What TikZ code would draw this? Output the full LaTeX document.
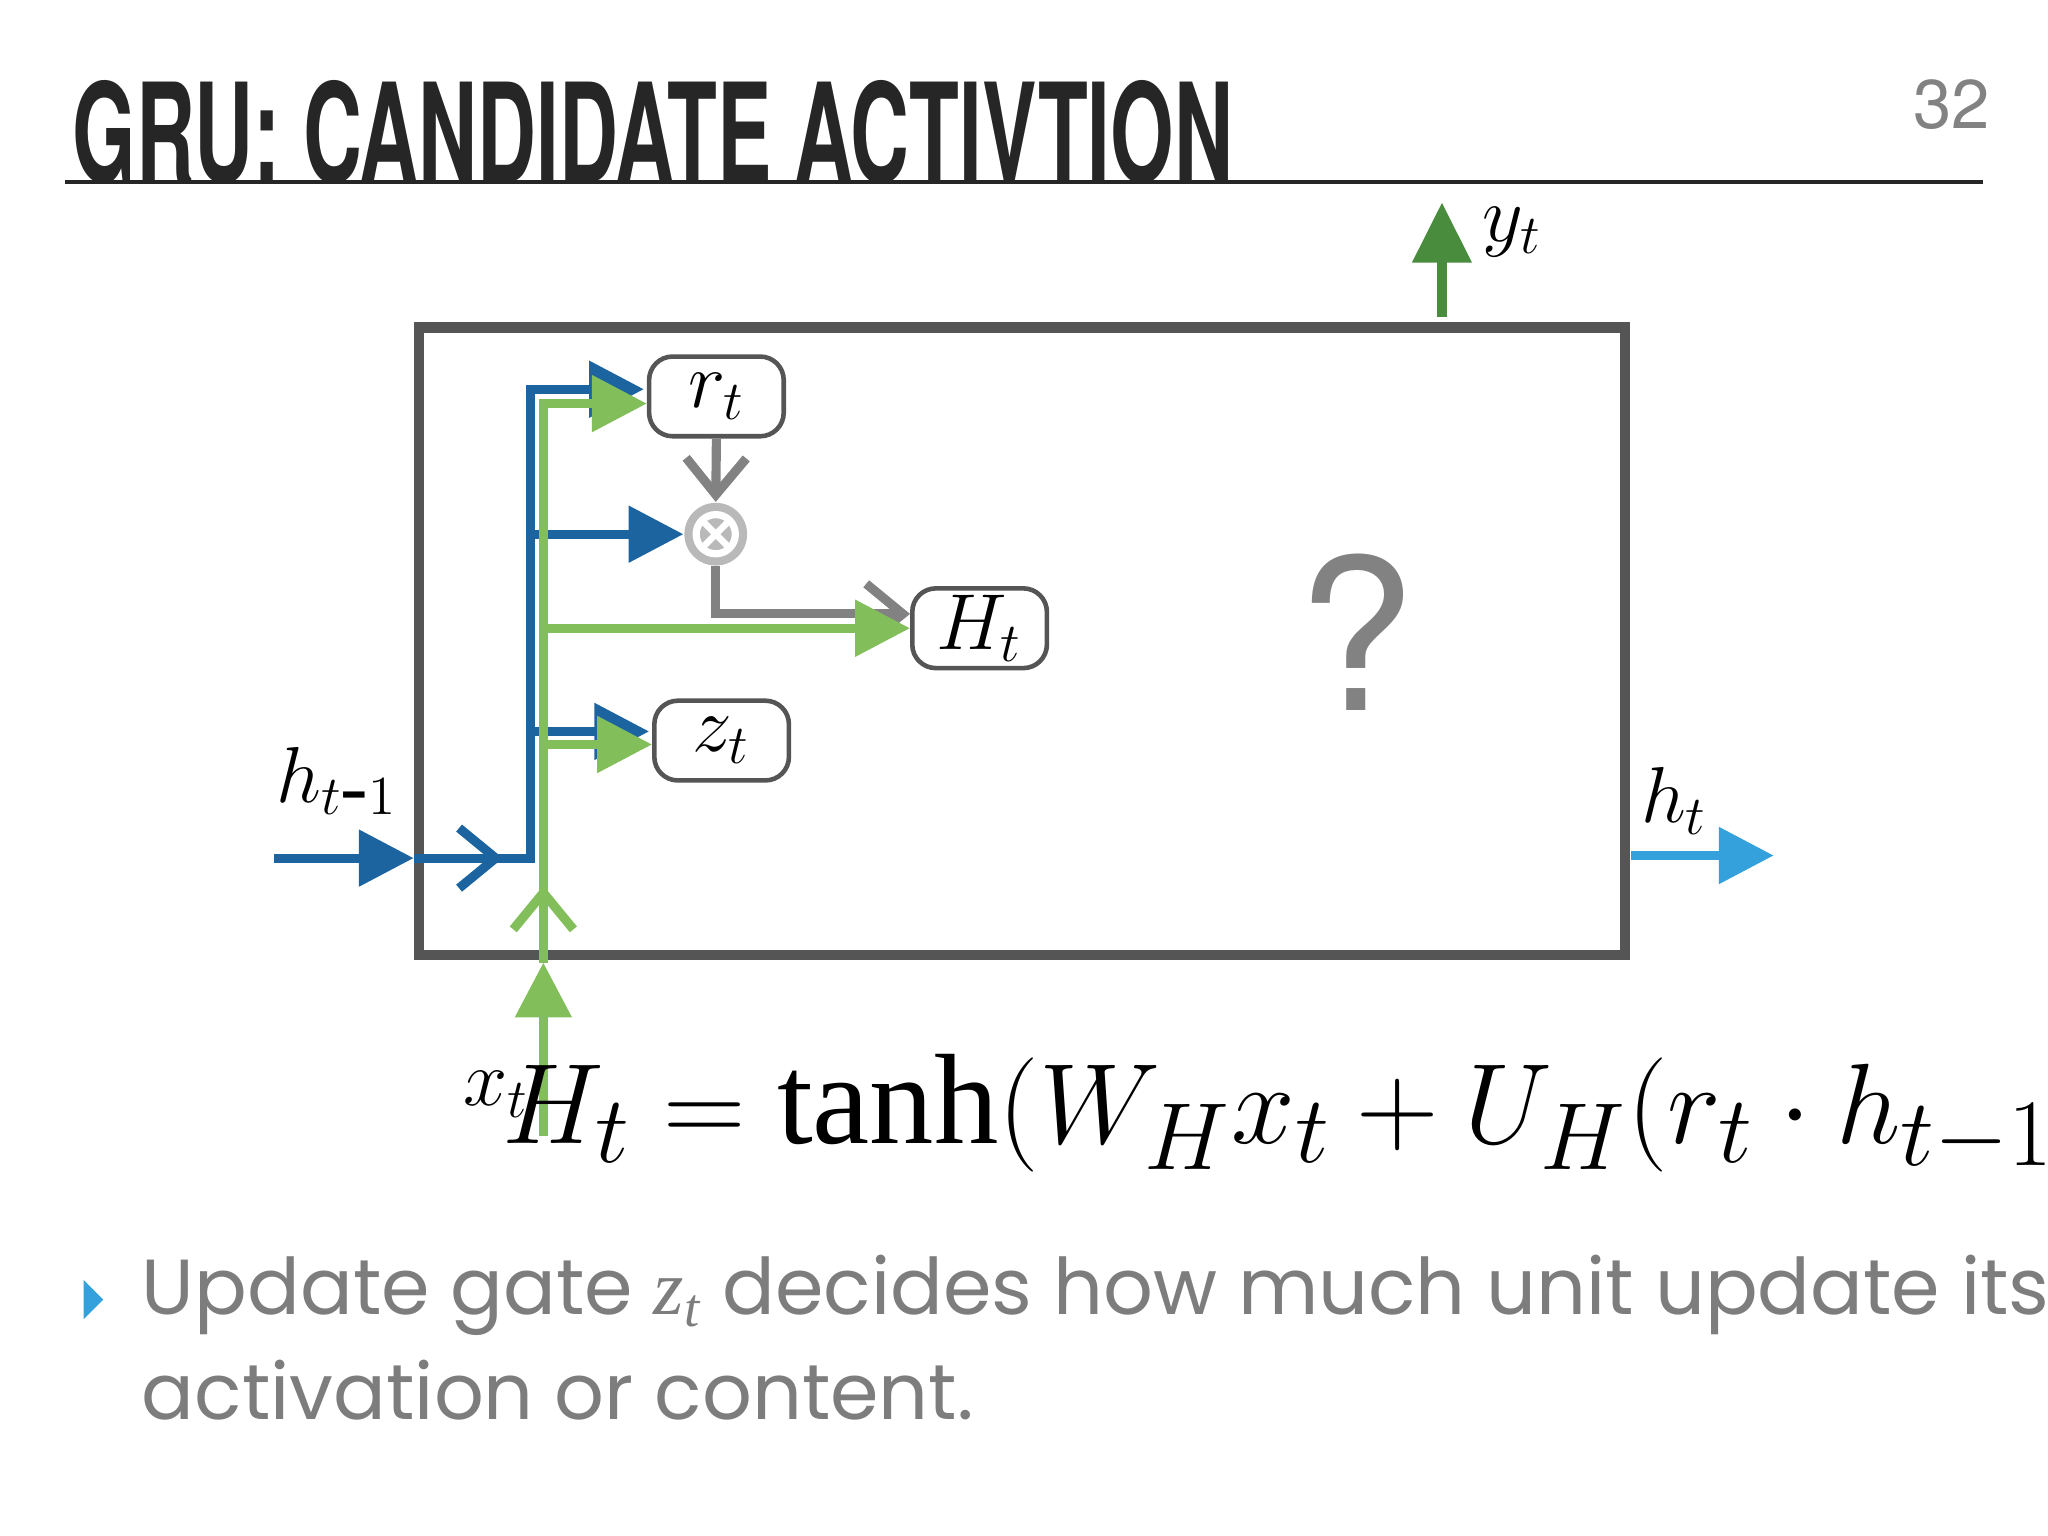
\documentclass[tikz,border=0pt]{standalone}
\usepackage{fontspec}
\usepackage{graphicx}
\setmainfont{Liberation Serif}
\newfontfamily\titlefont{TeX Gyre Heros}
\newfontfamily\bodyfont{Poppins}
\usetikzlibrary{arrows.meta,calc}
\definecolor{dblue}{RGB}{28,100,160}
\definecolor{lgreen}{RGB}{130,190,90}
\definecolor{dgreen}{RGB}{74,140,62}
\definecolor{lblue}{RGB}{52,160,220}
\definecolor{boxgray}{RGB}{85,85,85}
\definecolor{mgray}{RGB}{130,130,130}
\definecolor{txtgray}{RGB}{125,125,125}
\tikzset{
  flow/.style={line width=0.7mm},
  tip/.style={-{Triangle[length=4.2mm,width=4.2mm]}},
  barb/.style={-{Straight Barb[length=2.8mm,width=4.6mm,line width=0.7mm]}},
  gate/.style={draw=boxgray,line width=0.35mm,rounded corners=1.8mm,minimum width=10.3mm,minimum height=6.1mm,inner sep=0pt,font=\fontsize{18}{20}\selectfont},
  lbl/.style={font=\fontsize{18}{20}\selectfont}
}
\begin{document}
\begin{tikzpicture}[x=0.01cm,y=-0.01cm]
\useasboundingbox (0,0) rectangle (1568,1176);
% title
\node[anchor=west,inner sep=0pt,text=black!85] (title) at (55,101) {\titlefont\bfseries\fontsize{24}{26}\selectfont\scalebox{0.74}[1.25]{GRU: CANDIDATE ACTIVTION}};
\node[text=mgray,inner sep=0pt] (pg) at (1494,80) {\titlefont\fontsize{15}{16}\selectfont 32};
\coordinate (l1) at (50,139); \coordinate (l2) at (1518,139);
\draw[line width=0.3mm,black!85] (l1) -- (l2);
% cell box
\node[draw=boxgray,line width=0.8mm,minimum width=9.23cm,minimum height=4.8cm,inner sep=0pt] (cell) at (782.5,491) {};
% gates
\node[gate] (r) at (548.5,303.5) {$r_t$};
\node[gate] (H) at (750,481) {$H_t$};
\node[gate] (z) at (552.5,567) {$z_t$};
\node[draw=none,fill=gray!55,circle,minimum size=4.8mm,inner sep=0pt] (ot) at (548,409) {};
\draw[white,line width=0.55mm] (ot.center) circle (1.5mm);
\draw[white,line width=0.5mm] ($(ot.center)+(-10,-10)$) -- ($(ot.center)+(10,10)$) ($(ot.center)+(-10,10)$) -- ($(ot.center)+(10,-10)$);
% coordinates
\coordinate (hin) at (210,657);
\coordinate (bj) at (406,657);
\coordinate (bt) at (406,298);
\coordinate (xin) at (416,870);
\coordinate (xb) at (416,737);
\coordinate (gt) at (416,309);
% blue input
\draw[flow,dblue,tip] (hin) -- (cell.west|-hin);
\draw[flow,dblue,barb] (cell.west|-hin) -- (385,657);
\draw[flow,dblue] (380,657) -- (bj) -- (bt) -- (470,298);
\draw[flow,dblue,tip] (440,298) -- (493,298);
\draw[flow,dblue,tip] (406,409) -- (ot.west);
\draw[flow,dblue,tip] (406,560) -- (497,560);
% green input
\draw[flow,lgreen,tip] (xin) -- (xb);
\draw[flow,lgreen,barb] (416,737) -- (416,678);
\draw[flow,lgreen] (416,690) -- (gt) -- (470,309);
\draw[flow,lgreen,tip] (450,309) -- (r.west|-gt);
\draw[flow,lgreen,tip] (416,570) -- (z.west|-{(0,570)});
% gray path
\draw[flow,mgray,barb] (r.south) -- (ot.north);
\draw[flow,mgray] (ot.south) -- (548,470) -- (680,470);
\draw[flow,mgray,barb] (660,470) -- (H.west|-{(0,470)});
\draw[flow,lgreen,tip] (416,481) -- (H.west);
% outputs
\coordinate (yo) at (1104,155);
\draw[flow,dgreen,-{Triangle[length=4.6mm,width=4.4mm]}] (1104,243) -- (yo);
\coordinate (ho) at (1358,655);
\draw[flow,lblue,tip] (1249,655) -- (ho);
% labels
\node[lbl] (ly) at (1158,178) {$y_t$};
\node[lbl] (lh1) at (258,598) {$h_{t\mbox{-}1}$};
\node[lbl] (lh) at (1282,613) {$h_t$};
\node[lbl] (lx) at (380,838) {$x_t$};
\node[text=mgray,inner sep=0pt] (q) at (1038,484) {\titlefont\fontsize{46}{50}\selectfont ?};
% equation
\node[inner sep=0pt] (eq) at (1010,853) {\fontsize{28}{32}\selectfont $H_t=\tanh\!\Big(W_H x_t+U_H\big(r_t\cdot h_{t-1}\big)\Big)$};
% bullet
\fill[lblue] (64,980) -- (79,995) -- (64,1010) -- cycle;
\node[anchor=west,inner sep=0pt,text=txtgray] (b1) at (108,992) {\bodyfont\fontsize{17}{20}\selectfont Update gate \textit{\fontspec{Liberation Serif}z\textsubscript{\itshape t}} decides how much unit update its};
\node[anchor=west,inner sep=0pt,text=txtgray] (b2) at (108,1064) {\bodyfont\fontsize{17}{20}\selectfont activation or content.};
\end{tikzpicture}
\end{document}
